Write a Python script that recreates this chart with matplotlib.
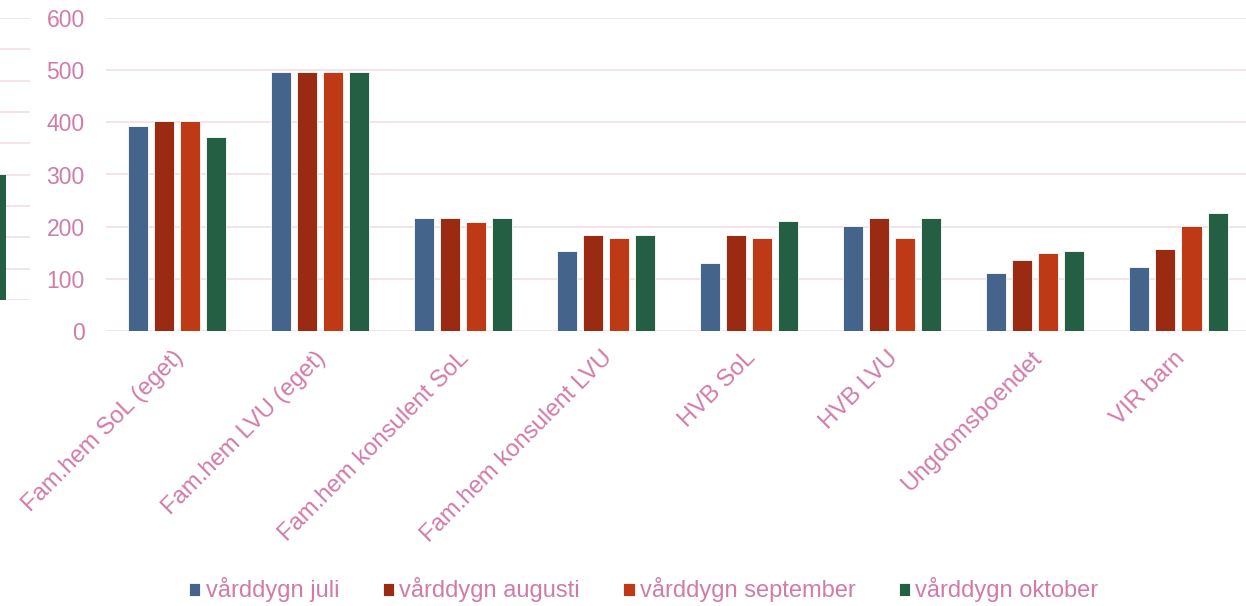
import numpy as np
import matplotlib.pyplot as plt
import matplotlib.transforms as mtransforms

categories = ["Fam.hem SoL (eget)", "Fam.hem LVU (eget)", "Fam.hem konsulent SoL",
              "Fam.hem konsulent LVU", "HVB SoL", "HVB LVU", "Ungdomsboendet", "VIR barn"]
series = ["vårddygn juli", "vårddygn augusti", "vårddygn september", "vårddygn oktober"]
juli = [393, 496, 217, 153, 130, 201, 112, 123]
augusti = [403, 496, 217, 184, 184, 217, 137, 157]
september = [403, 496, 209, 178, 178, 178, 149, 201]
oktober = [371, 496, 217, 184, 211, 217, 153, 227]
yticks = [0, 100, 200, 300, 400, 500, 600]

# cut-off neighbour chart at the left edge
neighbour_values = [4]

colors = ["#44648C", "#9B2A12", "#BE3A17", "#245F43"]
text_color = "#D17BA9"
grid_color = "#F3DDE8"

plt.rcParams["font.family"] = ["Liberation Sans", "DejaVu Sans"]

W, H = 1246, 606
fig = plt.figure(figsize=(W / 100, H / 100), dpi=100)

# neighbour chart fragment
axn = fig.add_axes([0, (H - 300) / H, 30 / W, (300 - 18) / H])
axn.set_xlim(0, 30)
axn.set_ylim(0, 9)
for v in range(10):
    axn.axhline(v, color=grid_color, lw=1.2, zorder=0)
axn.bar([0], neighbour_values, width=12, color=colors[3], zorder=2)
axn.axis("off")

ax = fig.add_axes([105.5 / W, (H - 331) / H, (1250 - 105.5) / W, (331 - 18) / H])
x = np.arange(len(categories))
stride = 0.182
width = 0.14
for i, (vals, name) in enumerate(zip([juli, augusti, september, oktober], series)):
    ax.bar(x + (i - 1.5) * stride, vals, width=width, color=colors[i],
           edgecolor="white", linewidth=0.6, label=name, zorder=2)

ax.set_xlim(-0.5, len(categories) - 0.5)
ax.set_ylim(0, 600)
ax.set_yticks(yticks)
for v in yticks:
    ax.axhline(v, color=grid_color, lw=1.2, zorder=0)
for s in ax.spines.values():
    s.set_visible(False)
ax.tick_params(axis="y", length=0, pad=15, labelsize=16.5, labelcolor=text_color)
ax.tick_params(axis="x", length=0, pad=10, labelsize=17.2, labelcolor=text_color)
ax.set_xticks(x)
ax.set_xticklabels(categories, rotation=45, ha="right", va="top", rotation_mode="anchor")
shift = mtransforms.ScaledTranslation(-5 / 100, -2 / 100, fig.dpi_scale_trans)
for lab in ax.get_xticklabels():
    lab.set_transform(lab.get_transform() + shift)

handles, labels = ax.get_legend_handles_labels()
fig.legend(handles, labels, loc="center", bbox_to_anchor=(644 / W, (H - 590) / H), ncol=4,
           frameon=False, fontsize=17, labelcolor=text_color, handlelength=0.47,
           handleheight=0.47, handletextpad=0.22, columnspacing=1.85, borderaxespad=0)

fig.savefig("out.png", dpi=100)
